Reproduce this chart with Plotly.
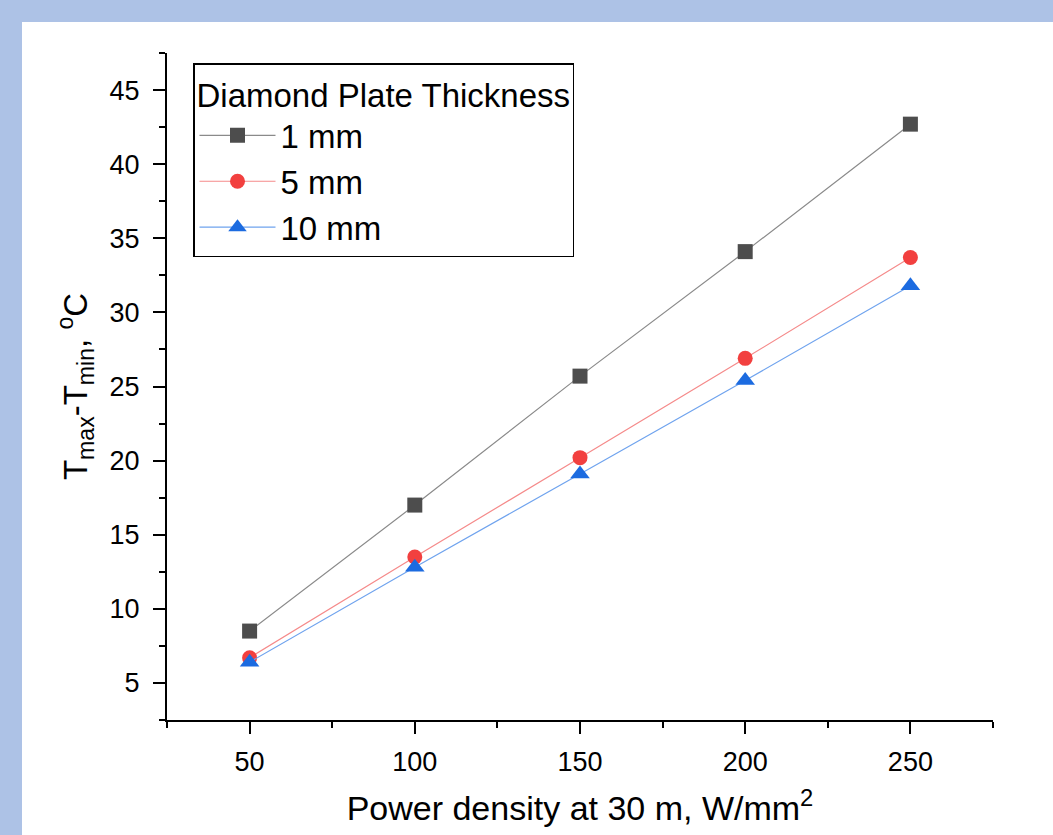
import plotly.graph_objects as go

power = [50, 100, 150, 200, 250]
dt_1mm = [8.5, 17.0, 25.7, 34.1, 42.7]
dt_5mm = [6.7, 13.5, 20.2, 26.9, 33.7]
dt_10mm = [6.4, 12.8, 19.1, 25.4, 31.8]
series_names = ["1 mm", "5 mm", "10 mm"]

FONT = "Arial, 'Liberation Sans', sans-serif"
W, H = 1053, 835
L, R, T, B = 167, 60, 53, 115
pw, ph = W - L - R, H - T - B

fig = go.Figure()
styles = [
    (dt_1mm, "#4D4D4D", "#8A8A8A", "square", 15),
    (dt_5mm, "#F2403F", "#F58A8A", "circle", 15),
    (dt_10mm, "#1C6BE0", "#6FA3EE", "triangle-up", 17),
]
for name, (vals, mc, lc, sym, sz) in zip(series_names, styles):
    fig.add_trace(go.Scatter(
        x=power, y=vals, name=name, mode="lines+markers",
        line=dict(color=lc, width=1.2),
        marker=dict(color=mc, symbol=sym, size=sz, line=dict(width=0)),
    ))

def px_x(p):
    return (p - L) / pw

def px_y(p):
    return 1 - (p - T) / ph

# light blue frame outside the white page
fig.add_shape(type="rect", xref="paper", yref="paper", layer="below",
              x0=px_x(22), x1=px_x(W + 5), y0=px_y(H + 5), y1=px_y(22),
              fillcolor="white", line=dict(width=0))

fig.update_xaxes(
    range=[25, 275], tickmode="array", tickvals=power,
    ticktext=[str(v) for v in power],
    minor=dict(ticks="outside", ticklen=6, tickwidth=2, tickcolor="black",
               tickmode="array", tickvals=[25, 75, 125, 175, 225, 275]),
    showline=True, linecolor="black", linewidth=2,
    ticks="outside", ticklen=12, tickwidth=2, tickcolor="black",
    showgrid=False, zeroline=False,
    tickfont=dict(family=FONT, size=27, color="black"),
    ticklabelstandoff=5,
    title=dict(text="Power density at 30 m, W/mm<sup>2</sup>",
               font=dict(family=FONT, size=34, color="black"), standoff=20),
)
fig.update_yaxes(
    range=[2.5, 47.5], tickmode="linear", tick0=5, dtick=5,
    minor=dict(ticks="outside", ticklen=6, tickwidth=2, tickcolor="black",
               tickmode="linear", tick0=2.5, dtick=5),
    showline=True, linecolor="black", linewidth=2,
    ticks="outside", ticklen=12, tickwidth=2, tickcolor="black",
    showgrid=False, zeroline=False,
    tickfont=dict(family=FONT, size=27, color="black"),
    ticklabelstandoff=8,
    title=dict(text="T<sub>max</sub>-T<sub>min</sub>, <sup>o</sup>C",
               font=dict(family=FONT, size=33, color="black"), standoff=12),
)

fig.update_layout(
    width=W, height=H,
    margin=dict(l=L, r=R, t=T, b=B, autoexpand=False),
    paper_bgcolor="#ADC2E6", plot_bgcolor="white",
    font=dict(family=FONT, color="black"),
    legend=dict(
        title=dict(text="Diamond Plate Thickness", font=dict(family=FONT, size=33, color="black")),
        font=dict(family=FONT, size=33, color="black"),
        x=px_x(193), y=px_y(63), xanchor="left", yanchor="top",
        bgcolor="white", bordercolor="black", borderwidth=1.5,
        itemwidth=76,
    ),
    showlegend=True,
)

fig.write_html("out.html")
